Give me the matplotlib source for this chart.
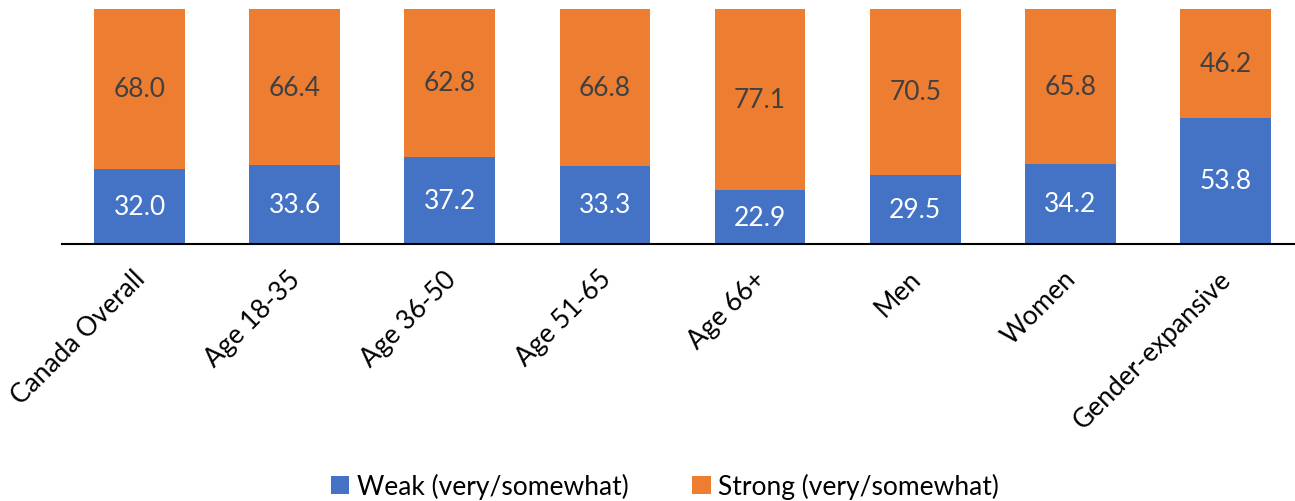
import matplotlib.pyplot as plt
import matplotlib.transforms as mtransforms
import numpy as np

categories = ["Canada Overall", "Age 18-35", "Age 36-50", "Age 51-65",
              "Age 66+", "Men", "Women", "Gender-expansive"]
weak = [32.0, 33.6, 37.2, 33.3, 22.9, 29.5, 34.2, 53.8]
strong = [68.0, 66.4, 62.8, 66.8, 77.1, 70.5, 65.8, 46.2]

BLUE = "#4472C4"
ORANGE = "#ED7D31"

plt.rcParams["font.family"] = ["Lato", "DejaVu Sans"]

fig = plt.figure(figsize=(12.95, 5.02), dpi=100)
W, H = 1295, 502
# axes box in pixels: left 62, right 1303 (runs off the edge), top 10, bottom 245
ax = fig.add_axes([62 / W, (H - 245) / H, (1303 - 62) / W, (245 - 10) / H])

x = np.arange(len(categories))
width = 0.585
b1 = ax.bar(x, weak, width, color=BLUE, label="Weak (very/somewhat)")
b2 = ax.bar(x, strong, width, bottom=weak, color=ORANGE, label="Strong (very/somewhat)")

for rect, v in zip(b1, weak):
    ax.text(rect.get_x() + rect.get_width() / 2, v / 2, f"{v:.1f}",
            ha="center", va="center", color="white", fontsize=19)
for rect, v, w in zip(b2, strong, weak):
    ax.text(rect.get_x() + rect.get_width() / 2, w + v / 2, f"{v:.1f}",
            ha="center", va="center", color="#404040", fontsize=19)

ax.set_xlim(-0.5, 7.5)
ax.set_ylim(0, 100)
ax.set_yticks([])
ax.set_xticks(x)
ax.set_xticklabels(categories, rotation=45, ha="right", va="center",
                   rotation_mode="anchor", fontsize=19)
ax.tick_params(axis="x", length=0, pad=22)
shift = mtransforms.ScaledTranslation(2 / 100, 0, fig.dpi_scale_trans)
for lbl in ax.get_xticklabels():
    lbl.set_transform(lbl.get_transform() + shift)
for s in ["top", "right", "left"]:
    ax.spines[s].set_visible(False)
ax.spines["bottom"].set_linewidth(1.5)
ax.spines["bottom"].set_color("black")

fig.legend(handles=[b1, b2], loc="center", bbox_to_anchor=(665 / W, 1 - 487 / H),
           ncol=2, frameon=False, fontsize=19, handlelength=0.7, handleheight=0.7,
           handletextpad=0.3, columnspacing=2.4)

fig.savefig("out.png", dpi=100)
